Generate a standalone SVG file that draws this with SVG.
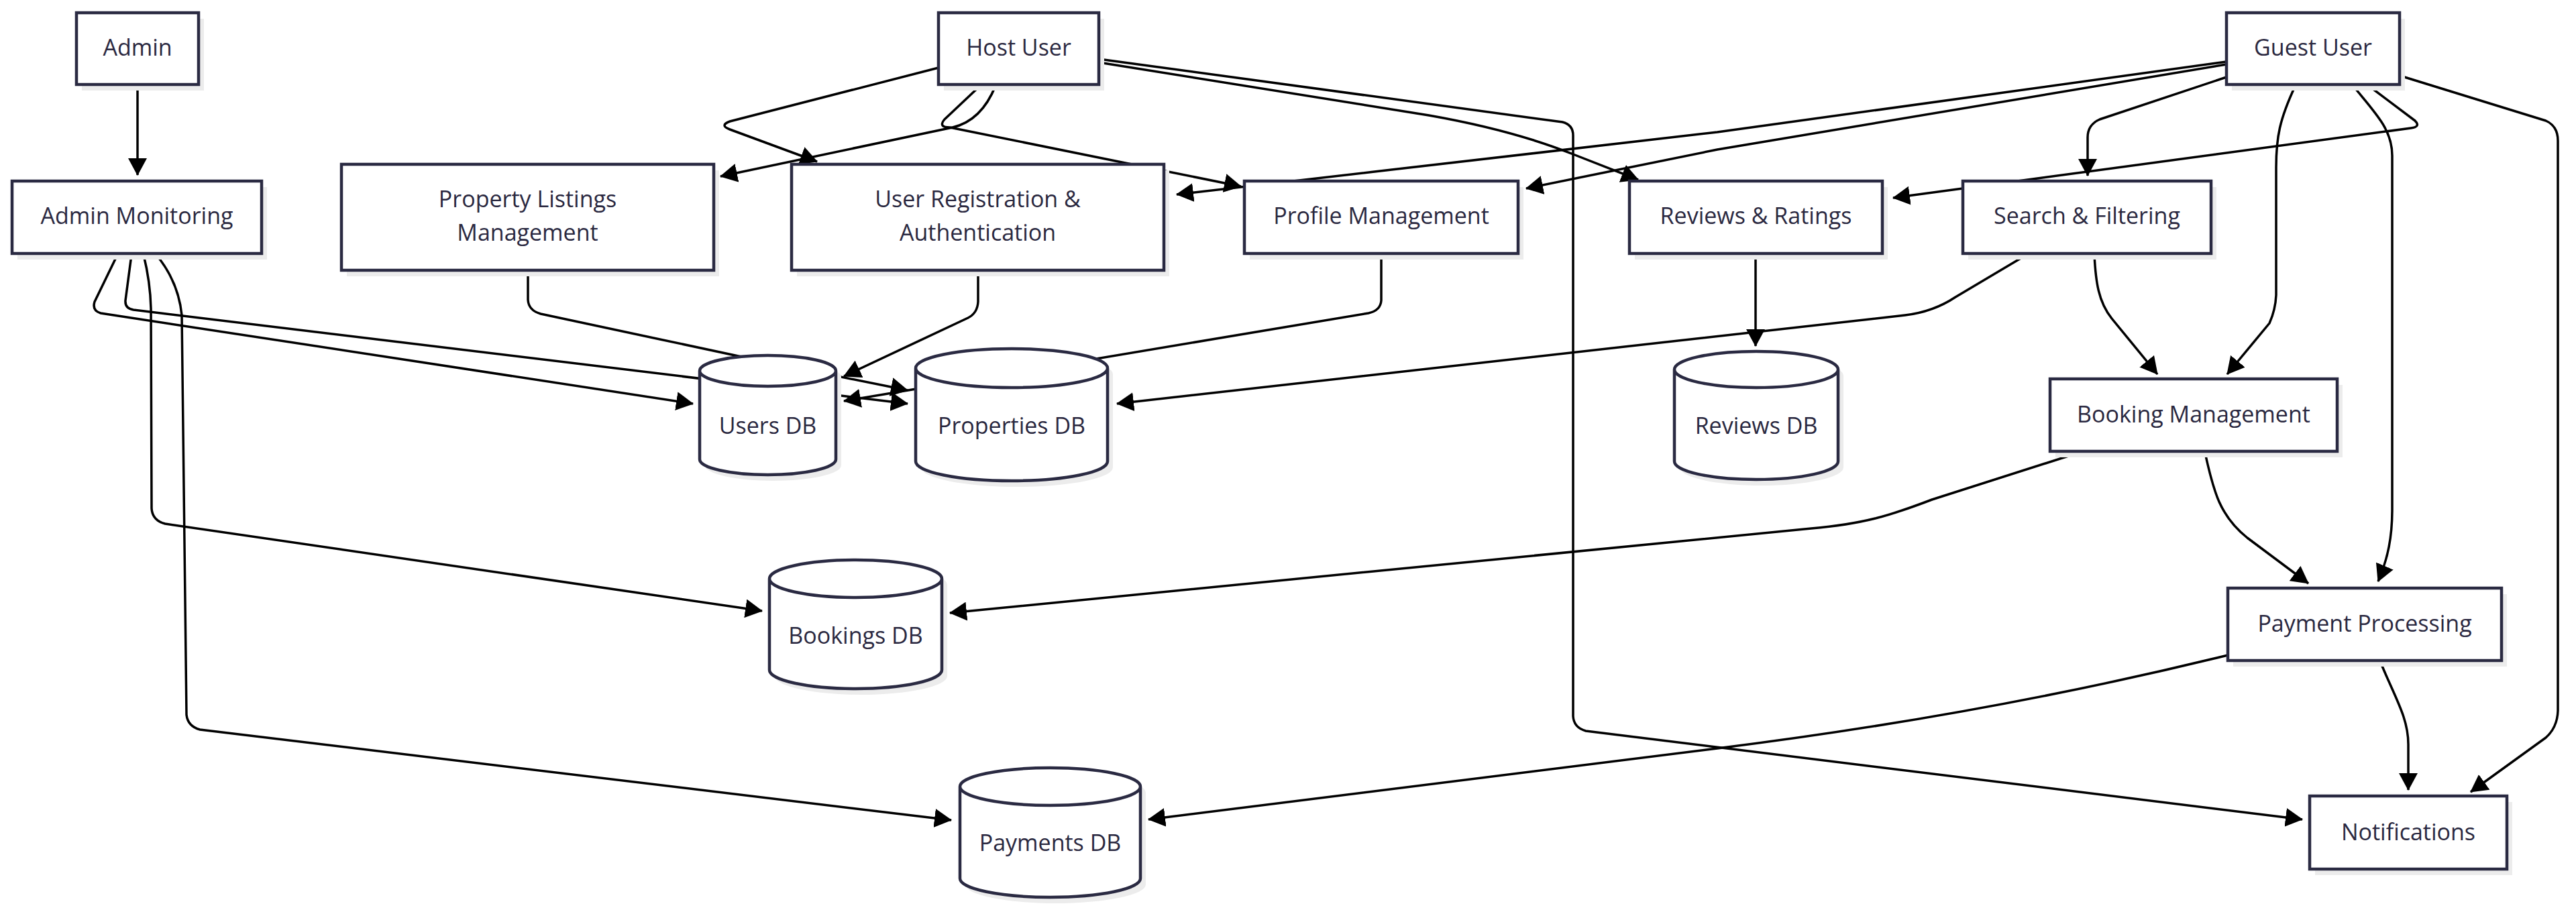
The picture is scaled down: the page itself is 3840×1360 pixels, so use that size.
<svg xmlns="http://www.w3.org/2000/svg" width="3840" height="1360" viewBox="0 0 3840 1360">
<style>
.bg{fill:#ffffff}
.node rect.box,.node path.box{fill:#ffffff;stroke:#2a2a42;stroke-width:4.5}
.node .sh{fill:#ececec;stroke:none}
.node text{font-family:"Open Sans","Liberation Sans",sans-serif;font-size:34px;fill:#2a2840;text-anchor:middle}
.edge{fill:none;stroke:#000000;stroke-width:3.5;stroke-linejoin:round;marker-end:url(#arrow)}
</style>
<defs>
<marker id="arrow" markerUnits="userSpaceOnUse" markerWidth="26" markerHeight="28" viewBox="0 0 26 28" refX="25" refY="14" orient="auto">
<path d="M0,0 L26,14 L0,28 z" fill="#000000"/>
</marker>
</defs>
<rect class="bg" x="0" y="0" width="3840" height="1360"/>
<g id="connectors">
<path class="edge" d="M205,127 L205,261"/>
<path class="edge" d="M175,380 L141,450 Q137,463 150,467 L1033,602"/>
<path class="edge" d="M196,380 L187,448 Q186,460 199,462 L1353,602"/>
<path class="edge" d="M214,380 Q224,420 225,460 L226,758 Q227,776 246,781 L1136,911"/>
<path class="edge" d="M233,380 Q266,420 271,470 L278,1066 Q280,1083 298,1088 L1418,1223"/>
<path class="edge" d="M1484,128 Q1463,180 1420,190 L1074,263"/>
<path class="edge" d="M1399,101 L1088,181 Q1072,187 1088,193 L1218,241"/>
<path class="edge" d="M1461,128 L1408,178 Q1398,190 1416,190 L1850,278"/>
<path class="edge" d="M1638,93 L2130,172 Q2255,194 2345,230 L2442,268"/>
<path class="edge" d="M1638,88 L2329,182 Q2345,186 2345,202 L2345,1068 Q2346,1085 2364,1090 L3432,1222"/>
<path class="edge" d="M3319,92 L2560,197 L1754,290"/>
<path class="edge" d="M3319,96 L2560,223 L2275,281"/>
<path class="edge" d="M3319,115 L3130,178 Q3112,186 3112,205 L3112,262"/>
<path class="edge" d="M3531,128 L3600,180 Q3609,189 3594,191 L2822,295"/>
<path class="edge" d="M3422,127 C3398,178 3393,205 3393,250 L3393,440 Q3392,462 3383,482 L3320,558"/>
<path class="edge" d="M3507,127 C3540,168 3566,192 3566,232 L3566,760 C3566,800 3560,832 3545,867"/>
<path class="edge" d="M3578,113 L3795,180 Q3813,188 3813,210 L3813,1060 Q3812,1085 3795,1100 L3683,1181"/>
<path class="edge" d="M787,403 L787,447 Q788,463 806,468 L1110,533 L1353,582"/>
<path class="edge" d="M1458,403 L1458,450 Q1457,467 1443,474 L1258,561"/>
<path class="edge" d="M2059,378 L2059,448 Q2058,463 2040,467 L1258,598"/>
<path class="edge" d="M2617,378 L2617,516"/>
<path class="edge" d="M3021,380 L2915,443 Q2882,465 2840,470 L1665,602"/>
<path class="edge" d="M3122,380 C3124,420 3128,450 3148,475 L3216,558"/>
<path class="edge" d="M3099,675 L2880,745 C2820,768 2780,781 2700,788 L1416,914"/>
<path class="edge" d="M3287,675 C3300,735 3310,770 3350,802 L3441,870"/>
<path class="edge" d="M3548,986 C3570,1040 3590,1070 3590,1110 L3590,1178"/>
<path class="edge" d="M3321,977 Q2960,1066 2560,1116 L1712,1222"/>
</g>
<g id="node-admin" class="node">
<rect class="sh" x="122" y="28" width="182" height="107"/>
<rect class="box" x="114" y="19" width="182" height="107"/>
<text x="205" y="83">Admin</text>
</g>
<g id="node-host" class="node">
<rect class="sh" x="1407" y="28" width="239" height="107"/>
<rect class="box" x="1399" y="19" width="239" height="107"/>
<text x="1518.5" y="83">Host User</text>
</g>
<g id="node-guest" class="node">
<rect class="sh" x="3327" y="28" width="258" height="107"/>
<rect class="box" x="3319" y="19" width="258" height="107"/>
<text x="3448" y="83">Guest User</text>
</g>
<g id="node-admin-monitoring" class="node">
<rect class="sh" x="26" y="279" width="372" height="108"/>
<rect class="box" x="18" y="270" width="372" height="108"/>
<text x="204" y="334">Admin Monitoring</text>
</g>
<g id="node-property-listings" class="node">
<rect class="sh" x="517" y="254" width="555" height="158"/>
<rect class="box" x="509" y="245" width="555" height="158"/>
<text x="786.5" y="309">Property Listings</text>
<text x="786.5" y="359">Management</text>
</g>
<g id="node-user-registration" class="node">
<rect class="sh" x="1188" y="254" width="555" height="158"/>
<rect class="box" x="1180" y="245" width="555" height="158"/>
<text x="1457.5" y="309">User Registration &amp;</text>
<text x="1457.5" y="359">Authentication</text>
</g>
<g id="node-profile" class="node">
<rect class="sh" x="1863" y="279" width="408" height="108"/>
<rect class="box" x="1855" y="270" width="408" height="108"/>
<text x="2059" y="334">Profile Management</text>
</g>
<g id="node-reviews" class="node">
<rect class="sh" x="2437" y="279" width="377" height="108"/>
<rect class="box" x="2429" y="270" width="377" height="108"/>
<text x="2617.5" y="334">Reviews &amp; Ratings</text>
</g>
<g id="node-search" class="node">
<rect class="sh" x="2934" y="279" width="370" height="108"/>
<rect class="box" x="2926" y="270" width="370" height="108"/>
<text x="3111" y="334">Search &amp; Filtering</text>
</g>
<g id="node-booking" class="node">
<rect class="sh" x="3064" y="574" width="428" height="108"/>
<rect class="box" x="3056" y="565" width="428" height="108"/>
<text x="3270" y="630">Booking Management</text>
</g>
<g id="node-payment" class="node">
<rect class="sh" x="3329" y="886" width="408" height="108"/>
<rect class="box" x="3321" y="877" width="408" height="108"/>
<text x="3525" y="942">Payment Processing</text>
</g>
<g id="node-notifications" class="node">
<rect class="sh" x="3451" y="1196" width="294" height="109"/>
<rect class="box" x="3443" y="1187" width="294" height="109"/>
<text x="3590" y="1253">Notifications</text>
</g>
<g id="node-users-db" class="node">
<path class="sh" transform="translate(8,9)" d="M1043,553 a101.5,23 0 0 0 203,0 a101.5,23 0 0 0 -203,0 l0,132 a101.5,23 0 0 0 203,0 l0,-132"/>
<path class="box" d="M1043,553 a101.5,23 0 0 0 203,0 a101.5,23 0 0 0 -203,0 l0,132 a101.5,23 0 0 0 203,0 l0,-132"/>
<text x="1144.5" y="647">Users DB</text>
</g>
<g id="node-properties-db" class="node">
<path class="sh" transform="translate(8,9)" d="M1365,549 a143,29 0 0 0 286,0 a143,29 0 0 0 -286,0 l0,139 a143,29 0 0 0 286,0 l0,-139"/>
<path class="box" d="M1365,549 a143,29 0 0 0 286,0 a143,29 0 0 0 -286,0 l0,139 a143,29 0 0 0 286,0 l0,-139"/>
<text x="1508" y="647">Properties DB</text>
</g>
<g id="node-reviews-db" class="node">
<path class="sh" transform="translate(8,9)" d="M2496,551 a122,27 0 0 0 244,0 a122,27 0 0 0 -244,0 l0,137 a122,27 0 0 0 244,0 l0,-137"/>
<path class="box" d="M2496,551 a122,27 0 0 0 244,0 a122,27 0 0 0 -244,0 l0,137 a122,27 0 0 0 244,0 l0,-137"/>
<text x="2618" y="647">Reviews DB</text>
</g>
<g id="node-bookings-db" class="node">
<path class="sh" transform="translate(8,9)" d="M1147,863 a128.5,28 0 0 0 257,0 a128.5,28 0 0 0 -257,0 l0,136 a128.5,28 0 0 0 257,0 l0,-136"/>
<path class="box" d="M1147,863 a128.5,28 0 0 0 257,0 a128.5,28 0 0 0 -257,0 l0,136 a128.5,28 0 0 0 257,0 l0,-136"/>
<text x="1275.5" y="960">Bookings DB</text>
</g>
<g id="node-payments-db" class="node">
<path class="sh" transform="translate(8,9)" d="M1431,1173 a134.5,28 0 0 0 269,0 a134.5,28 0 0 0 -269,0 l0,137 a134.5,28 0 0 0 269,0 l0,-137"/>
<path class="box" d="M1431,1173 a134.5,28 0 0 0 269,0 a134.5,28 0 0 0 -269,0 l0,137 a134.5,28 0 0 0 269,0 l0,-137"/>
<text x="1565.5" y="1269">Payments DB</text>
</g>
</svg>
